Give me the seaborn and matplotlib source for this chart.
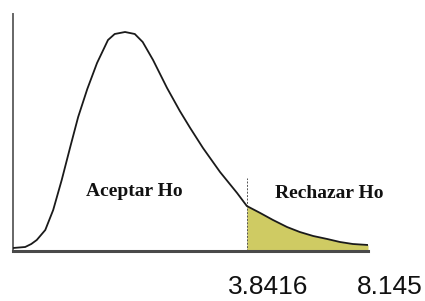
import matplotlib
matplotlib.use("Agg")
import matplotlib.pyplot as plt
import seaborn as sns
import pandas as pd

# Curve (x in chi-square-like units, y as density height)
curve_x = [0.00, 0.20, 0.30, 0.39, 0.53, 0.66, 0.80, 0.94, 1.07, 1.22, 1.38, 1.56, 1.67,
           1.84, 2.00, 2.13, 2.30, 2.53, 2.74, 2.91, 3.12, 3.40, 3.68, 3.84, 4.06,
           4.27, 4.50, 4.71, 4.93, 5.16, 5.37, 5.58, 5.83]
curve_y = [0.003, 0.004, 0.007, 0.011, 0.021, 0.041, 0.071, 0.104, 0.134, 0.162, 0.188, 0.211, 0.217,
           0.219, 0.217, 0.209, 0.191, 0.163, 0.140, 0.123, 0.103, 0.079, 0.058, 0.045, 0.038,
           0.031, 0.024, 0.019, 0.015, 0.012, 0.009, 0.007, 0.006]
critical = 3.84
region_labels = ["Aceptar Ho", "Rechazar Ho"]
value_labels = ["3.8416", "8.145"]

df = pd.DataFrame({"x": curve_x, "y": curve_y})

sns.set_style("white")
plt.rcParams["font.family"] = ["Liberation Sans", "DejaVu Sans"]

fig = plt.figure(figsize=(4.25, 3.01), dpi=100)
ax = fig.add_axes([13 / 425, 1 - 251 / 301, (368 - 13) / 425, (251 - 14) / 301])

tail = df[df["x"] >= critical]
ax.fill_between(tail["x"], 0, tail["y"], color="#cfcb63", linewidth=0, zorder=1)
sns.lineplot(data=df, x="x", y="y", ax=ax, color="#1a1a1a", linewidth=1.3,
             sort=False, zorder=3, solid_joinstyle="round", solid_capstyle="round")
ax.axvline(critical, ymin=0, ymax=0.31, color="#555555", linewidth=0.7,
           linestyle=(0, (2, 1.5)), zorder=2)

ax.set_xlim(0, 5.83)
ax.set_ylim(0, 0.237)
ax.set_xticks([])
ax.set_yticks([])
ax.set_xlabel("")
ax.set_ylabel("")
for s in ["top", "right"]:
    ax.spines[s].set_visible(False)
ax.spines["bottom"].set_color("#4a4a4a")
ax.spines["bottom"].set_linewidth(2.2)
ax.spines["left"].set_color("#666666")
ax.spines["left"].set_linewidth(1.4)

ax.text(1.99, 0.060, region_labels[0], ha="center", va="center",
        family=["Liberation Serif"], fontweight="bold", fontsize=14, color="#111111")
ax.text(5.19, 0.057, region_labels[1], ha="center", va="center",
        family=["Liberation Serif"], fontweight="bold", fontsize=14, color="#111111")

fig.text(268 / 425, 1 - 287 / 301, value_labels[0], ha="center", va="center",
         fontsize=19, color="#111111")
fig.text(390 / 425, 1 - 287 / 301, value_labels[1], ha="center", va="center",
         fontsize=19, color="#111111")

fig.savefig("out.png", dpi=100)
